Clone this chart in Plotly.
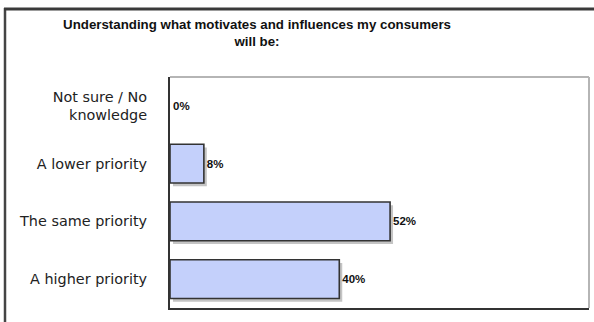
import plotly.graph_objects as go

# Survey responses, listed top to bottom
categories = ["Not sure / No<br>knowledge", "A lower priority", "The same priority", "A higher priority"]
percentages = [0, 8, 52, 40]
value_labels = ["0%", "8%", "52%", "40%"]
title_lines = ["Understanding what motivates and influences my consumers", "will be:"]

BAR_WIDTH = 0.67
FILL = "#c4d0fb"
EDGE = "#333333"
SHADOW = "#c4c4c4"

fig = go.Figure()

# Soft drop shadow behind each bar (nudged right and down)
fig.add_trace(go.Bar(
    y=categories, x=percentages, base=0.7, orientation="h",
    width=BAR_WIDTH, offset=-BAR_WIDTH / 2 + 0.055,
    marker=dict(color=SHADOW, line=dict(width=0)),
    hoverinfo="skip", showlegend=False,
))

# Main bars with value labels; empty bars get no outline
fig.add_trace(go.Bar(
    y=categories, x=percentages, orientation="h",
    width=BAR_WIDTH, offset=-BAR_WIDTH / 2,
    marker=dict(color=FILL, line=dict(color=EDGE, width=[1.6 if v > 0 else 0 for v in percentages])),
    text=value_labels, texttemplate="<b>%{text}</b>",
    textposition="outside", cliponaxis=False,
    textfont=dict(family="Liberation Sans, Arial, sans-serif", size=11.5, color="#111111"),
    showlegend=False,
))

fig.update_layout(
    width=594, height=322,
    margin=dict(l=170, r=5, t=77, b=14),
    paper_bgcolor="white", plot_bgcolor="white",
    barmode="overlay",
    title=dict(
        text="<b>" + "<br>".join(title_lines) + "</b>",
        x=257 / 594, xanchor="center", y=1 - 29 / 322, yanchor="top",
        font=dict(family="Liberation Sans, Arial, sans-serif", size=13.3, color="#111111"),
    ),
    xaxis=dict(
        range=[0, 99], showgrid=False, zeroline=False, showticklabels=False,
        ticks="", showline=True, linecolor=EDGE, linewidth=2,
    ),
    yaxis=dict(
        autorange="reversed", showgrid=False, zeroline=False, ticks="",
        showline=True, linecolor=EDGE, linewidth=2,
        ticklabelstandoff=18,
        tickfont=dict(family="DejaVu Sans, Verdana, sans-serif", size=14.4, color="#222222"),
    ),
    shapes=[
        # outer panel frame: left edge
        dict(type="line", xref="paper", yref="paper", layer="above",
             x0=-165 / 419, x1=-165 / 419, y0=-20 / 231, y1=1 + 69 / 231,
             line=dict(color="#444444", width=2.5)),
        # outer panel frame: top edge
        dict(type="line", xref="paper", yref="paper", layer="above",
             x0=-166 / 419, x1=1 + 10 / 419, y0=1 + 68 / 231, y1=1 + 68 / 231,
             line=dict(color="#3a3a3a", width=3)),
        # light top and right edges of the plot box
        dict(type="line", xref="paper", yref="paper", x0=0, x1=1, y0=1, y1=1,
             line=dict(color="#b5b5b5", width=2)),
        dict(type="line", xref="paper", yref="paper", x0=1, x1=1, y0=0, y1=1,
             line=dict(color="#b5b5b5", width=2)),
    ],
)

fig.write_html("out.html")
